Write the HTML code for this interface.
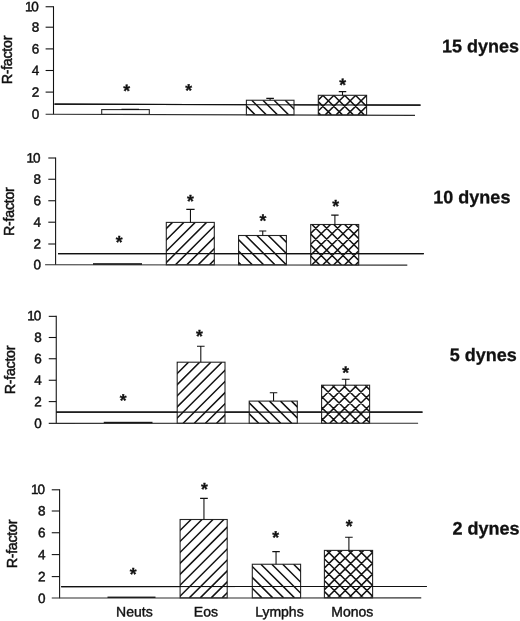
<!DOCTYPE html>
<html lang="en"><head><meta charset="utf-8"><title>R-factor by shear stress</title>
<style>
html,body{margin:0;padding:0;background:#fff}
body{width:520px;height:621px;overflow:hidden}
svg{display:block;will-change:transform;filter:grayscale(1)}
text{font-family:"Liberation Sans",sans-serif;fill:#111;stroke:#111;stroke-width:.3px}
.tk{font-size:13.5px;text-anchor:end;stroke-width:.45px}
.rf{font-size:14.3px;text-anchor:middle;letter-spacing:-0.3px;stroke-width:.5px}
.ct{font-size:14px;text-anchor:middle;stroke-width:.4px}
.bd{font-size:18px;font-weight:bold;stroke-width:.3px}
.as{font-size:17.5px;font-weight:bold;text-anchor:middle;stroke-width:.35px}
.ln{stroke:#111;stroke-width:1.08;fill:none}
.bl{stroke:#2c2c2c;stroke-width:1.08;fill:none}
.ol{stroke:#262626;stroke-width:1.1;fill:#fff}
.ht{stroke:#111;stroke-width:1.5;fill:none}
</style></head><body>
<svg width="520" height="621" viewBox="0 0 520 621">
<rect x="0" y="0" width="520" height="621" fill="#fff"/>
<g id="panel1">
<path class="ln" d="M53.5 6.25 V114.25"/>
<path class="ln" d="M45.6 6.75 H53.5"/>
<text class="tk" x="38.9" y="11.3" transform="rotate(.03 38.9 11.3)">1<tspan dx="-1.1">0</tspan></text>
<path class="ln" d="M45.6 27.2 H53.5"/>
<text class="tk" x="39.35" y="31.75" transform="rotate(.03 39.35 31.75)">8</text>
<path class="ln" d="M45.6 48.9 H53.5"/>
<text class="tk" x="39.35" y="53.45" transform="rotate(.03 39.35 53.45)">6</text>
<path class="ln" d="M45.6 70.5 H53.5"/>
<text class="tk" x="39.35" y="75.05" transform="rotate(.03 39.35 75.05)">4</text>
<path class="ln" d="M45.6 92.1 H53.5"/>
<text class="tk" x="39.35" y="96.65" transform="rotate(.03 39.35 96.65)">2</text>
<text class="tk" x="39.35" y="118.8" transform="rotate(.03 39.35 118.8)">0</text>
<path class="ln" d="M54.5 104.1 L420.5 105.15"/>
<rect class="ol" x="101.7" y="109.6" width="47.6" height="4.8"/>
<path class="ln" d="M121.5 109.4 H139 M130.25 109.4 V109.6"/>
<rect class="ol" x="246.4" y="100.25" width="47.6" height="14.55"/>
<clipPath id="c1"><rect x="246.4" y="100.25" width="47.6" height="14.55"/></clipPath>
<path class="ht" clip-path="url(#c1)" d="M218.3 100.25 l14.55 14.55 M229.45 100.25 l14.55 14.55 M240.6 100.25 l14.55 14.55 M251.75 100.25 l14.55 14.55 M262.9 100.25 l14.55 14.55 M274.05 100.25 l14.55 14.55 M285.2 100.25 l14.55 14.55 M296.35 100.25 l14.55 14.55"/>
<path class="ln" d="M266.3 98.4 H273.9 M270.1 98.4 V100.25"/>
<rect class="ol" x="318.3" y="95.3" width="48.3" height="19.6"/>
<clipPath id="c2"><rect x="318.3" y="95.3" width="48.3" height="19.6"/></clipPath>
<path class="ht" clip-path="url(#c2)" d="M281.67 114.9 l19.6 -19.6 M292.57 114.9 l19.6 -19.6 M303.47 114.9 l19.6 -19.6 M314.37 114.9 l19.6 -19.6 M325.27 114.9 l19.6 -19.6 M336.17 114.9 l19.6 -19.6 M347.07 114.9 l19.6 -19.6 M357.97 114.9 l19.6 -19.6 M368.87 114.9 l19.6 -19.6 M279.17 95.3 l19.6 19.6 M290.07 95.3 l19.6 19.6 M300.97 95.3 l19.6 19.6 M311.87 95.3 l19.6 19.6 M322.77 95.3 l19.6 19.6 M333.67 95.3 l19.6 19.6 M344.57 95.3 l19.6 19.6 M355.47 95.3 l19.6 19.6 M366.37 95.3 l19.6 19.6 M377.27 95.3 l19.6 19.6"/>
<path class="ln" d="M338.75 91.6 H346.25 M342.5 91.6 V95.3"/>
<path class="ln" d="M54.5 104.1 L420.5 105.15"/>
<path class="bl" d="M45.6 114.25 L415 115.4"/>
<text class="as" x="126.6" y="96.78" transform="rotate(.03 126.6 96.78)">*</text>
<text class="as" x="188.75" y="96.28" transform="rotate(.03 188.75 96.28)">*</text>
<text class="as" x="342.6" y="90.69" transform="rotate(.03 342.6 90.69)">*</text>
<text class="rf" transform="translate(11.5 60.1) rotate(-90)" x="0" y="0">R-factor</text>
<text class="bd" x="442" y="52.3" transform="rotate(.03 442 52.3)">15 dynes</text>
</g>
<g id="panel2">
<path class="ln" d="M55.6 157.5 V264.8"/>
<path class="ln" d="M48.3 158 H55.6"/>
<text class="tk" x="40.5" y="162.55" transform="rotate(.03 40.5 162.55)">1<tspan dx="-1.1">0</tspan></text>
<path class="ln" d="M48.3 179.25 H55.6"/>
<text class="tk" x="40.95" y="183.8" transform="rotate(.03 40.95 183.8)">8</text>
<path class="ln" d="M48.3 200.75 H55.6"/>
<text class="tk" x="40.95" y="205.3" transform="rotate(.03 40.95 205.3)">6</text>
<path class="ln" d="M48.3 222.2 H55.6"/>
<text class="tk" x="40.95" y="226.75" transform="rotate(.03 40.95 226.75)">4</text>
<path class="ln" d="M48.3 244 H55.6"/>
<text class="tk" x="40.95" y="248.55" transform="rotate(.03 40.95 248.55)">2</text>
<text class="tk" x="40.95" y="269.35" transform="rotate(.03 40.95 269.35)">0</text>
<path class="ln" d="M58 253.65 L423.75 253.6"/>
<rect x="93" y="263.2" width="49" height="1.7" fill="#111"/>
<rect class="ol" x="166.3" y="222.4" width="48" height="42.4"/>
<clipPath id="c3"><rect x="166.3" y="222.4" width="48" height="42.4"/></clipPath>
<path class="ht" clip-path="url(#c3)" d="M107.35 264.8 l42.4 -42.4 M118.7 264.8 l42.4 -42.4 M130.05 264.8 l42.4 -42.4 M141.4 264.8 l42.4 -42.4 M152.75 264.8 l42.4 -42.4 M164.1 264.8 l42.4 -42.4 M175.45 264.8 l42.4 -42.4 M186.8 264.8 l42.4 -42.4 M198.15 264.8 l42.4 -42.4 M209.5 264.8 l42.4 -42.4 M220.85 264.8 l42.4 -42.4"/>
<path class="ln" d="M186.3 209.4 H194.6 M190.45 209.4 V222.4"/>
<rect class="ol" x="238.55" y="235.5" width="47.85" height="29.3"/>
<clipPath id="c4"><rect x="238.55" y="235.5" width="47.85" height="29.3"/></clipPath>
<path class="ht" clip-path="url(#c4)" d="M189.02 235.5 l29.3 29.3 M200.35 235.5 l29.3 29.3 M211.68 235.5 l29.3 29.3 M223.01 235.5 l29.3 29.3 M234.34 235.5 l29.3 29.3 M245.67 235.5 l29.3 29.3 M257 235.5 l29.3 29.3 M268.33 235.5 l29.3 29.3 M279.66 235.5 l29.3 29.3 M290.99 235.5 l29.3 29.3"/>
<path class="ln" d="M259.2 231 H266.3 M262.75 231 V235.5"/>
<rect class="ol" x="310.7" y="224.5" width="48" height="40.5"/>
<clipPath id="c5"><rect x="310.7" y="224.5" width="48" height="40.5"/></clipPath>
<path class="ht" clip-path="url(#c5)" d="M257.27 265 l40.5 -40.5 M268.17 265 l40.5 -40.5 M279.07 265 l40.5 -40.5 M289.97 265 l40.5 -40.5 M300.87 265 l40.5 -40.5 M311.77 265 l40.5 -40.5 M322.67 265 l40.5 -40.5 M333.57 265 l40.5 -40.5 M344.47 265 l40.5 -40.5 M355.37 265 l40.5 -40.5 M366.27 265 l40.5 -40.5 M257.47 224.5 l40.5 40.5 M268.37 224.5 l40.5 40.5 M279.27 224.5 l40.5 40.5 M290.17 224.5 l40.5 40.5 M301.07 224.5 l40.5 40.5 M311.97 224.5 l40.5 40.5 M322.87 224.5 l40.5 40.5 M333.77 224.5 l40.5 40.5 M344.67 224.5 l40.5 40.5 M355.57 224.5 l40.5 40.5 M366.47 224.5 l40.5 40.5"/>
<path class="ln" d="M331.2 215.1 H338.6 M334.9 215.1 V224.5"/>
<path class="ln" d="M58 253.65 L423.75 253.6"/>
<path class="bl" d="M45.1 264.8 L407.3 265.15"/>
<text class="as" x="119.2" y="247.98" transform="rotate(.03 119.2 247.98)">*</text>
<text class="as" x="190.3" y="206.98" transform="rotate(.03 190.3 206.98)">*</text>
<text class="as" x="262.9" y="226.48" transform="rotate(.03 262.9 226.48)">*</text>
<text class="as" x="335.6" y="212.09" transform="rotate(.03 335.6 212.09)">*</text>
<text class="rf" transform="translate(13.7 211.7) rotate(-90)" x="0" y="0">R-factor</text>
<text class="bd" x="433.35" y="203.25" transform="rotate(.03 433.35 203.25)">10 dynes</text>
</g>
<g id="panel3">
<path class="ln" d="M56.25 315.85 V423.5"/>
<path class="ln" d="M48.75 316.35 H56.25"/>
<text class="tk" x="41.25" y="320.3" transform="rotate(.03 41.25 320.3)">1<tspan dx="-1.1">0</tspan></text>
<path class="ln" d="M48.75 337.5 H56.25"/>
<text class="tk" x="41.7" y="342.05" transform="rotate(.03 41.7 342.05)">8</text>
<path class="ln" d="M48.75 358.75 H56.25"/>
<text class="tk" x="41.7" y="363.3" transform="rotate(.03 41.7 363.3)">6</text>
<path class="ln" d="M48.75 380.25 H56.25"/>
<text class="tk" x="41.7" y="384.8" transform="rotate(.03 41.7 384.8)">4</text>
<path class="ln" d="M48.75 401.6 H56.25"/>
<text class="tk" x="41.7" y="406.15" transform="rotate(.03 41.7 406.15)">2</text>
<text class="tk" x="41.7" y="428.05" transform="rotate(.03 41.7 428.05)">0</text>
<path class="ln" d="M56.25 412.1 L422.5 412.1"/>
<rect x="103.75" y="421.8" width="48.75" height="1.6" fill="#111"/>
<rect class="ol" x="177.2" y="362.2" width="47.8" height="61.1"/>
<clipPath id="c6"><rect x="177.2" y="362.2" width="47.8" height="61.1"/></clipPath>
<path class="ht" clip-path="url(#c6)" d="M93.95 423.3 l61.1 -61.1 M105.1 423.3 l61.1 -61.1 M116.25 423.3 l61.1 -61.1 M127.4 423.3 l61.1 -61.1 M138.55 423.3 l61.1 -61.1 M149.7 423.3 l61.1 -61.1 M160.85 423.3 l61.1 -61.1 M172 423.3 l61.1 -61.1 M183.15 423.3 l61.1 -61.1 M194.3 423.3 l61.1 -61.1 M205.45 423.3 l61.1 -61.1 M216.6 423.3 l61.1 -61.1 M227.75 423.3 l61.1 -61.1"/>
<path class="ln" d="M197 346.25 H204.6 M200.8 346.25 V362.2"/>
<rect class="ol" x="249.2" y="401.1" width="48.1" height="22.2"/>
<clipPath id="c7"><rect x="249.2" y="401.1" width="48.1" height="22.2"/></clipPath>
<path class="ht" clip-path="url(#c7)" d="M214.5 401.1 l22.2 22.2 M225.5 401.1 l22.2 22.2 M236.5 401.1 l22.2 22.2 M247.5 401.1 l22.2 22.2 M258.5 401.1 l22.2 22.2 M269.5 401.1 l22.2 22.2 M280.5 401.1 l22.2 22.2 M291.5 401.1 l22.2 22.2 M302.5 401.1 l22.2 22.2"/>
<path class="ln" d="M269.8 392.7 H277.3 M273.55 392.7 V401.1"/>
<rect class="ol" x="321.6" y="385.2" width="48" height="38.1"/>
<clipPath id="c8"><rect x="321.6" y="385.2" width="48" height="38.1"/></clipPath>
<path class="ht" clip-path="url(#c8)" d="M264.02 423.3 l38.1 -38.1 M274.98 423.3 l38.1 -38.1 M285.94 423.3 l38.1 -38.1 M296.9 423.3 l38.1 -38.1 M307.86 423.3 l38.1 -38.1 M318.82 423.3 l38.1 -38.1 M329.78 423.3 l38.1 -38.1 M340.74 423.3 l38.1 -38.1 M351.7 423.3 l38.1 -38.1 M362.66 423.3 l38.1 -38.1 M373.62 423.3 l38.1 -38.1 M266.42 385.2 l38.1 38.1 M277.38 385.2 l38.1 38.1 M288.34 385.2 l38.1 38.1 M299.3 385.2 l38.1 38.1 M310.26 385.2 l38.1 38.1 M321.22 385.2 l38.1 38.1 M332.18 385.2 l38.1 38.1 M343.14 385.2 l38.1 38.1 M354.1 385.2 l38.1 38.1 M365.06 385.2 l38.1 38.1 M376.02 385.2 l38.1 38.1"/>
<path class="ln" d="M341.8 379.3 H349.6 M345.7 379.3 V385.2"/>
<path class="ln" d="M56.25 412.1 L422.5 412.1"/>
<path class="bl" d="M48.75 423.4 L418.1 423.25"/>
<text class="as" x="123.25" y="406.29" transform="rotate(.03 123.25 406.29)">*</text>
<text class="as" x="199.5" y="342.04" transform="rotate(.03 199.5 342.04)">*</text>
<text class="as" x="345.75" y="378.49" transform="rotate(.03 345.75 378.49)">*</text>
<text class="rf" transform="translate(14.7 370) rotate(-90)" x="0" y="0">R-factor</text>
<text class="bd" x="449.7" y="361" transform="rotate(.03 449.7 361)">5 dynes</text>
</g>
<g id="panel4">
<path class="ln" d="M59.6 489.3 V598.35"/>
<path class="ln" d="M51.75 489.8 H59.6"/>
<text class="tk" x="45" y="494.05" transform="rotate(.03 45 494.05)">1<tspan dx="-1.1">0</tspan></text>
<path class="ln" d="M51.75 511 H59.6"/>
<text class="tk" x="45.45" y="515.55" transform="rotate(.03 45.45 515.55)">8</text>
<path class="ln" d="M51.75 532.75 H59.6"/>
<text class="tk" x="45.45" y="537.3" transform="rotate(.03 45.45 537.3)">6</text>
<path class="ln" d="M51.75 554.6 H59.6"/>
<text class="tk" x="45.45" y="559.15" transform="rotate(.03 45.45 559.15)">4</text>
<path class="ln" d="M51.75 576.6 H59.6"/>
<text class="tk" x="45.45" y="581.15" transform="rotate(.03 45.45 581.15)">2</text>
<text class="tk" x="45.45" y="602.9" transform="rotate(.03 45.45 602.9)">0</text>
<path class="ln" d="M61.2 586.6 L426.75 586.5"/>
<rect x="107.5" y="596.6" width="48" height="1.4" fill="#111"/>
<rect class="ol" x="180.1" y="519.5" width="47.1" height="78.4"/>
<clipPath id="c9"><rect x="180.1" y="519.5" width="47.1" height="78.4"/></clipPath>
<path class="ht" clip-path="url(#c9)" d="M79.8 597.9 l78.4 -78.4 M90.75 597.9 l78.4 -78.4 M101.7 597.9 l78.4 -78.4 M112.65 597.9 l78.4 -78.4 M123.6 597.9 l78.4 -78.4 M134.55 597.9 l78.4 -78.4 M145.5 597.9 l78.4 -78.4 M156.45 597.9 l78.4 -78.4 M167.4 597.9 l78.4 -78.4 M178.35 597.9 l78.4 -78.4 M189.3 597.9 l78.4 -78.4 M200.25 597.9 l78.4 -78.4 M211.2 597.9 l78.4 -78.4 M222.15 597.9 l78.4 -78.4 M233.1 597.9 l78.4 -78.4"/>
<path class="ln" d="M200.1 498.4 H207.8 M203.95 498.4 V519.5"/>
<rect class="ol" x="252.3" y="564.25" width="48.3" height="33.65"/>
<clipPath id="c10"><rect x="252.3" y="564.25" width="48.3" height="33.65"/></clipPath>
<path class="ht" clip-path="url(#c10)" d="M206.4 564.25 l33.65 33.65 M217.3 564.25 l33.65 33.65 M228.2 564.25 l33.65 33.65 M239.1 564.25 l33.65 33.65 M250 564.25 l33.65 33.65 M260.9 564.25 l33.65 33.65 M271.8 564.25 l33.65 33.65 M282.7 564.25 l33.65 33.65 M293.6 564.25 l33.65 33.65 M304.5 564.25 l33.65 33.65"/>
<path class="ln" d="M272.3 551.6 H279.8 M276.05 551.6 V564.25"/>
<rect class="ol" x="324.4" y="550.4" width="48.2" height="47.4"/>
<clipPath id="c11"><rect x="324.4" y="550.4" width="48.2" height="47.4"/></clipPath>
<path class="ht" clip-path="url(#c11)" d="M262.07 597.8 l47.4 -47.4 M272.92 597.8 l47.4 -47.4 M283.77 597.8 l47.4 -47.4 M294.62 597.8 l47.4 -47.4 M305.47 597.8 l47.4 -47.4 M316.32 597.8 l47.4 -47.4 M327.17 597.8 l47.4 -47.4 M338.02 597.8 l47.4 -47.4 M348.87 597.8 l47.4 -47.4 M359.72 597.8 l47.4 -47.4 M370.57 597.8 l47.4 -47.4 M381.42 597.8 l47.4 -47.4 M261.62 550.4 l47.4 47.4 M272.47 550.4 l47.4 47.4 M283.32 550.4 l47.4 47.4 M294.17 550.4 l47.4 47.4 M305.02 550.4 l47.4 47.4 M315.87 550.4 l47.4 47.4 M326.72 550.4 l47.4 47.4 M337.57 550.4 l47.4 47.4 M348.42 550.4 l47.4 47.4 M359.27 550.4 l47.4 47.4 M370.12 550.4 l47.4 47.4 M380.97 550.4 l47.4 47.4"/>
<path class="ln" d="M345.1 537.3 H352.7 M348.9 537.3 V550.4"/>
<path class="ln" d="M61.2 586.6 L426.75 586.5"/>
<path class="bl" d="M51.75 598.05 L421.25 597.9"/>
<text class="as" x="133.25" y="580.03" transform="rotate(.03 133.25 580.03)">*</text>
<text class="as" x="204.5" y="495.04" transform="rotate(.03 204.5 495.04)">*</text>
<text class="as" x="275.75" y="543.28" transform="rotate(.03 275.75 543.28)">*</text>
<text class="as" x="349.25" y="532.03" transform="rotate(.03 349.25 532.03)">*</text>
<text class="rf" transform="translate(16.9 544.1) rotate(-90)" x="0" y="0">R-factor</text>
<text class="bd" x="452.6" y="534.5" transform="rotate(.03 452.6 534.5)">2 dynes</text>
</g>
<g id="categories">
<text class="ct" x="134.4" y="616.4" transform="rotate(.03 134.4 616.4)">Neuts</text>
<text class="ct" x="205.9" y="616.4" transform="rotate(.03 205.9 616.4)">Eos</text>
<text class="ct" x="279.4" y="616.4" transform="rotate(.03 279.4 616.4)">Lymphs</text>
<text class="ct" x="352.3" y="616.4" transform="rotate(.03 352.3 616.4)">Monos</text>
</g>
</svg></body></html>
